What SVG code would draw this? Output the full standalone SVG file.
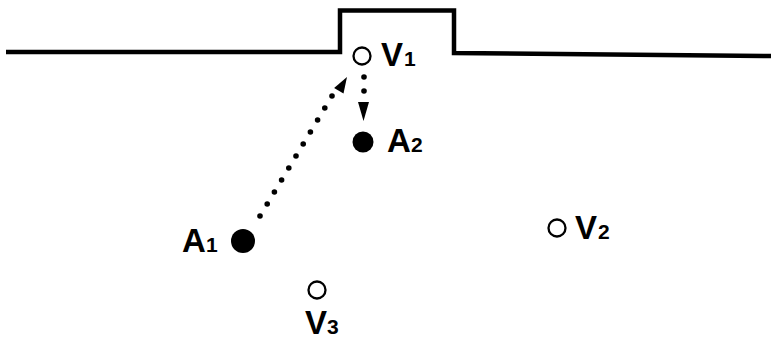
<svg xmlns="http://www.w3.org/2000/svg" width="771" height="345" viewBox="0 0 771 345">
<defs>
<style>
.lbl{font-family:"Liberation Sans",Arial,sans-serif;font-weight:bold;font-size:33px;fill:#000}
.sub{font-family:"Liberation Sans",Arial,sans-serif;font-weight:bold;font-size:21px;fill:#000}
.open{fill:#fff;stroke:#000;stroke-width:2.3}
.full{fill:#000}
.dot{fill:#000}
.head{fill:#000}
</style>
</defs>
<rect width="771" height="345" fill="#fff"/>
<g id="surface">
<path d="M6,52 L340,52 L340,10.5 L454,10.5 L454,53 L771,56" fill="none" stroke="#000" stroke-width="4.5" stroke-linejoin="miter"/>
</g>
<g id="V1">
<circle class="open" cx="362" cy="56" r="8.5"/>
<text class="lbl" x="381" y="66">V</text><text class="sub" x="404" y="66">1</text>
</g>
<g id="A2">
<circle class="full" cx="363" cy="142" r="10.5"/>
<text class="lbl" x="387" y="152">A</text><text class="sub" x="411" y="152">2</text>
</g>
<g id="A1">
<circle class="full" cx="243" cy="241" r="12"/>
<text class="lbl" x="182" y="252">A</text><text class="sub" x="206" y="252">1</text>
</g>
<g id="V2">
<circle class="open" cx="557" cy="228" r="8.5"/>
<text class="lbl" x="575" y="239">V</text><text class="sub" x="598" y="239">2</text>
</g>
<g id="V3">
<circle class="open" cx="317" cy="290" r="8.5"/>
<text class="lbl" x="305" y="334">V</text><text class="sub" x="327" y="334">3</text>
</g>
<g id="connectors">
<g id="A1-V1">
<circle class="dot" cx="260" cy="216" r="2.8"/>
<circle class="dot" cx="267.2" cy="204" r="2.8"/>
<circle class="dot" cx="274.4" cy="192" r="2.8"/>
<circle class="dot" cx="281.6" cy="180" r="2.8"/>
<circle class="dot" cx="288.8" cy="168" r="2.8"/>
<circle class="dot" cx="296" cy="156" r="2.8"/>
<circle class="dot" cx="303.2" cy="144" r="2.8"/>
<circle class="dot" cx="310.4" cy="132" r="2.8"/>
<circle class="dot" cx="317.6" cy="120" r="2.8"/>
<circle class="dot" cx="324.8" cy="108" r="2.8"/>
<circle class="dot" cx="332" cy="96" r="2.8"/>
<polygon class="head" points="347,77 343.5,93.5 334.1,87.9"/>
</g>
<g id="V1-A2">
<circle class="dot" cx="364" cy="77" r="2.8"/>
<circle class="dot" cx="364" cy="91" r="2.8"/>
<polygon class="head" points="358,102 369,102 363.5,121"/>
</g>
</g>
</svg>
